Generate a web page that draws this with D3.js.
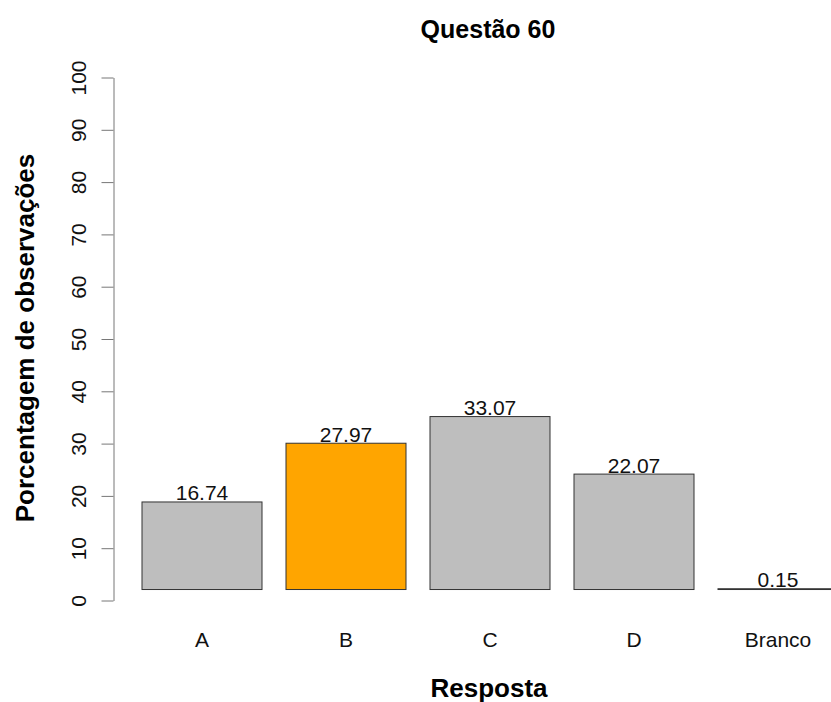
<!DOCTYPE html>
<html>
<head>
<meta charset="utf-8">
<script src="https://cdn.jsdelivr.net/npm/d3@7"></script>
<style>
  html, body { margin: 0; padding: 0; background: #fff; }
  svg { display: block; font-family: "Liberation Sans", Arial, sans-serif; }
</style>
</head>
<body>
<svg id="chart" width="831" height="702"></svg>
<script>
const categories = ["A", "B", "C", "D", "Branco"];
const values = [16.74, 27.97, 33.07, 22.07, 0.15];
const barColors = ["#BEBEBE", "#FFA500", "#BEBEBE", "#BEBEBE", "#BEBEBE"];
const yTicks = [0, 10, 20, 30, 40, 50, 60, 70, 80, 90, 100];
const titleText = "Questão 60";
const xTitle = "Resposta";
const yTitle = "Porcentagem de observações";

const barBase = 2.1; // bars in the reference rise from slightly above 0

const svg = d3.select("#chart");

const y = d3.scaleLinear().domain([0, 100]).range([600.5, 77.5]);
const x = d3.scaleBand().domain(categories)
  .range([130, 130 + 5 * 144])
  .paddingInner(1 / 6).paddingOuter(1 / 12);

// Y axis
const yAxis = d3.axisLeft(y).tickValues(yTicks).tickSize(12).tickSizeOuter(0);
const gy = svg.append("g").attr("transform", "translate(113.5,0)").call(yAxis);
gy.select(".domain").attr("stroke", "#777").attr("stroke-width", 1);
gy.selectAll(".tick line").attr("stroke", "#777");
gy.selectAll(".tick text")
  .attr("font-size", 21)
  .attr("fill", "#111")
  .attr("font-family", "Liberation Sans, Arial, sans-serif")
  .attr("x", null).attr("y", 0).attr("dy", null)
  .attr("transform", "translate(-27.5,0) rotate(-90)")
  .attr("text-anchor", "middle");

// Bars
svg.append("g").selectAll("rect").data(categories).join("rect")
  .attr("x", d => x(d))
  .attr("width", x.bandwidth())
  .attr("y", (d, i) => y(barBase + values[i]))
  .attr("height", (d, i) => y(barBase) - y(barBase + values[i]))
  .attr("fill", (d, i) => barColors[i])
  .attr("stroke", "#333")
  .attr("stroke-width", 1);

// Value labels
svg.append("g").selectAll("text").data(categories).join("text")
  .attr("x", d => x(d) + x.bandwidth() / 2)
  .attr("y", (d, i) => y(barBase + values[i]) - 1.5)
  .attr("text-anchor", "middle")
  .attr("font-size", 21)
  .attr("fill", "#111")
  .text((d, i) => values[i].toFixed(2));

// X category labels
svg.append("g").selectAll("text").data(categories).join("text")
  .attr("x", d => x(d) + x.bandwidth() / 2)
  .attr("y", 647)
  .attr("text-anchor", "middle")
  .attr("font-size", 21)
  .attr("fill", "#111")
  .text(d => d);

// Title
svg.append("text")
  .attr("x", 488).attr("y", 38)
  .attr("text-anchor", "middle")
  .attr("font-size", 25).attr("font-weight", "bold")
  .text(titleText);

// X title
svg.append("text")
  .attr("x", 489).attr("y", 697)
  .attr("text-anchor", "middle")
  .attr("font-size", 26).attr("font-weight", "bold")
  .text(xTitle);

// Y title
svg.append("text")
  .attr("transform", "translate(34,338) rotate(-90)")
  .attr("text-anchor", "middle")
  .attr("font-size", 26).attr("font-weight", "bold")
  .text(yTitle);
</script>
</body>
</html>
